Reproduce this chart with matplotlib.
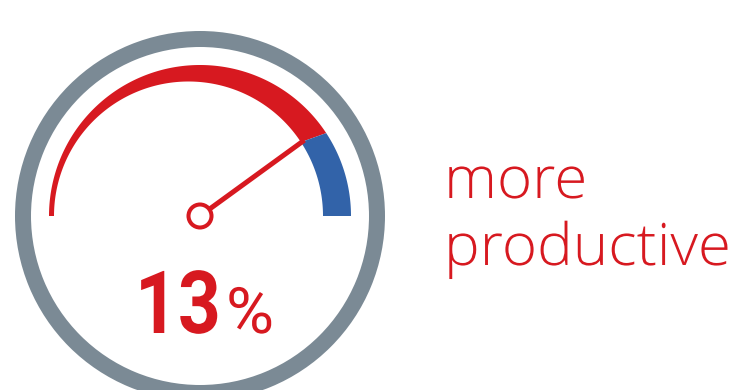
import numpy as np
import matplotlib
matplotlib.use("Agg")
import matplotlib.pyplot as plt
from matplotlib.patches import Polygon, Circle, Wedge
from matplotlib.patheffects import AbstractPathEffect
from matplotlib.transforms import Affine2D

# ---- data ----
percent_value = 13
percent_sign = "%"
label_lines = ["more", "productive"]
gauge_colors = ["#D71920", "#3263A9"]
gauge_bounds = [0.0, 0.815, 1.0]     # fraction of the half-dial (0 = left, 1 = right)
needle_value = 0.80                  # fraction of the half-dial

RED = "#D71920"
GRAY = "#7B8A95"


class Scale(AbstractPathEffect):
    """Scale glyphs about a display point (x0, y0)."""
    def __init__(self, sx, sy, x0, y0):
        super().__init__()
        self.sx, self.sy, self.x0, self.y0 = sx, sy, x0, y0

    def draw_path(self, renderer, gc, tpath, affine, rgbFace=None):
        a = affine + Affine2D().translate(-self.x0, -self.y0) \
            .scale(self.sx, self.sy).translate(self.x0, self.y0)
        renderer.draw_path(gc, tpath, a, rgbFace)


fig = plt.figure(figsize=(7.34, 3.9), dpi=100)
ax = fig.add_axes([0, 0, 1, 1])
ax.set_xlim(0, 734)
ax.set_ylim(390, 0)
ax.set_aspect("equal")
ax.axis("off")

cx, cy = 200, 216
# outer gray ring
ax.add_patch(Wedge((cx, cy), 185, 0, 360, width=16, facecolor=GRAY, edgecolor="none"))

# tapered gauge arc
r_out = 151
icx, r_in = 188.5, 134.5
for c, f0, f1 in zip(gauge_colors, gauge_bounds[:-1], gauge_bounds[1:]):
    th = np.radians(np.linspace(180 * (1 - f0), 180 * (1 - f1), 200))
    ox = cx + r_out * np.cos(th)
    oy = cy - r_out * np.sin(th)
    ix = icx + r_in * np.cos(th[::-1])
    iy = cy - r_in * np.sin(th[::-1])
    pts = np.column_stack([np.concatenate([ox, ix]), np.concatenate([oy, iy])])
    ax.add_patch(Polygon(pts, closed=True, facecolor=c, edgecolor="none"))

# needle
ang = np.radians(180 * (1 - needle_value))
L = 129
ax.plot([cx, cx + L * np.cos(ang)], [cy, cy - L * np.sin(ang)], color=RED,
        lw=3.6, solid_capstyle="butt", zorder=3)
ax.add_patch(Circle((cx, cy), 11.5, facecolor="white", edgecolor=RED, lw=2.9, zorder=4))

# value text
t13 = ax.text(135, 333, f"{percent_value}", color=RED, fontsize=55, fontfamily="Roboto",
              fontweight="bold", ha="left", va="baseline")
tpc = ax.text(226, 333, percent_sign, color=RED, fontsize=46, fontfamily="Roboto",
              fontweight="normal", ha="left", va="baseline")

# label
tl1 = ax.text(444, 198, label_lines[0], color=RED, fontsize=42, fontfamily="Open Sans",
              fontweight="light", ha="left", va="baseline")
tl2 = ax.text(444, 265, label_lines[1], color=RED, fontsize=42, fontfamily="Open Sans",
              fontweight="light", ha="left", va="baseline")

fig.canvas.draw()
r = fig.canvas.get_renderer()


def fit(t, width, sx=None, sy=1.0):
    bb = t.get_window_extent(r)
    if sx is None:
        sx = width / bb.width
    x0, y0 = ax.transData.transform(t.get_position())
    t.set_path_effects([Scale(sx, sy, bb.x0, y0)])
    return sx


fit(t13, 86, sy=62 / (55 * 100 / 72 * 0.711))
fit(tpc, 48)
s = fit(tl2, 287)
fit(tl1, None, sx=s)

fig.savefig("out.png", dpi=100, facecolor="white")
